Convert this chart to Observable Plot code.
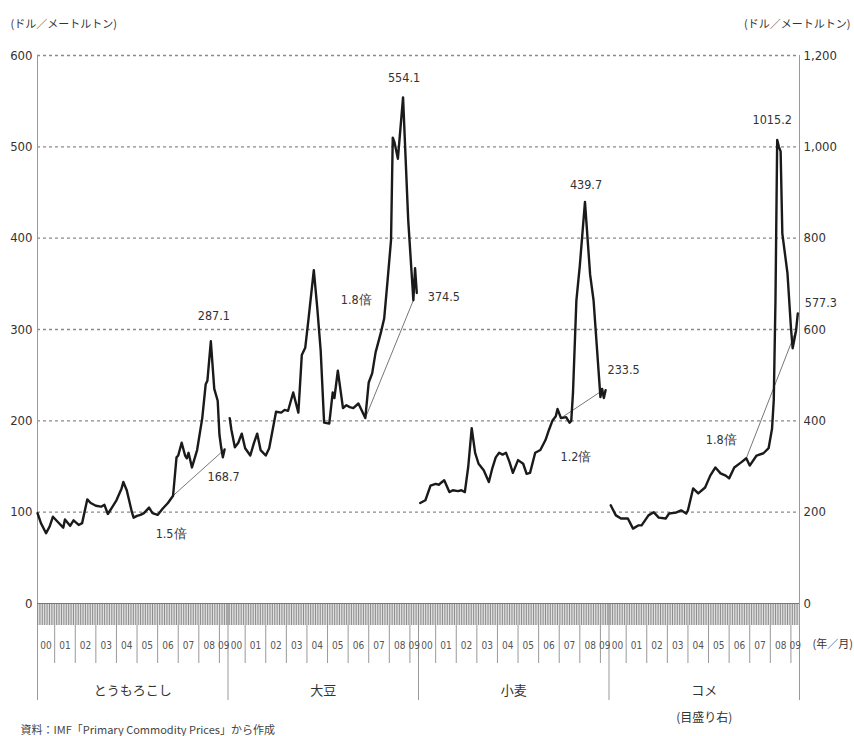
<!DOCTYPE html>
<html><head><meta charset="utf-8">
<script src="https://cdn.jsdelivr.net/npm/d3@7"></script>
<script src="https://cdn.jsdelivr.net/npm/@observablehq/plot@0.6"></script>
<style>
body{margin:0;background:#fff}
#chart{position:relative;width:854px;height:736px;overflow:hidden}
</style>
</head><body><div id="chart"></div>
<script>
// ---- data ----
const commodities = ["とうもろこし", "大豆", "小麦", "コメ"];
const yearLabels = ["00","01","02","03","04","05","06","07","08","09"];
const leftTicks = [0, 100, 200, 300, 400, 500, 600];
const unitLabel = "(ドル／メートルトン)";
const axisUnit = "(年／月)";
const rightNote = "(目盛り右)";
const sourceNote = "資料：IMF「Primary Commodity Prices」から作成";

// months counted from 2000/01 (=0)
const cornMonths = [2,4,7,9,11,14,17,18,21,23,26,28,31,33,36,39,41,43,45,48,51,52,54,55,57,58,60,62,64,67,69,72,75,78,81,83,84,86,88,89,90,92,95,98,100,101,103,105,107,108,109,110,111];
const cornPrices = [99,88,77,84,95,89,83,92,85,91,86,88,114,110,107,106,108,98,104,113,126,133,124,116,100,94,96,97,99,105,99,97,104,110,118,160,162,176,162,159,165,149,168,203,240,244,287.1,235,222,185,171,160,168.7];

const soyMonths = [3,4,6,8,10,12,15,17,19,21,24,26,28,30,33,35,37,40,43,45,47,49,52,54,56,58,61,63,64,66,69,71,73,75,78,82,84,86,88,91,93,95,97,98,99,101,104,107,110,111,112];
const soyPrices = [203,190,171,176,186,170,162,175,186,168,162,170,190,210,209,212,211,231,209,272,280,313,365,324,277,198,197,231,225,255,214,217,215,214,219,203,242,252,275,296,312,354,398,510,505,487,554.1,420,332,367,340];

const wheatMonths = [3,6,9,12,14,15,17,20,22,25,27,29,31,33,35,37,40,43,45,47,49,51,53,55,57,60,63,65,67,70,73,76,78,80,82,83,85,88,90,91,92,94,96,99,102,104,108,109,110,111];
const wheatPrices = [110,113,129,131,130,132,135,122,124,123,124,122,150,192,165,153,146,133,148,160,165,163,165,155,143,157,153,142,143,165,168,179,190,200,205,213,203,204,198,200,230,332,370,439.7,360,332,226,235,225,233.5];

const riceMonths = [3,6,9,13,16,19,21,25,28,31,35,37,41,44,47,48,51,54,58,61,64,67,70,72,75,79,82,84,88,92,95,97,98,99,100,101,102,103,106,108,109,111,112];
const ricePrices = [215,193,186,186,164,171,171,193,200,188,186,197,199,204,197,204,252,241,254,280,298,285,280,274,298,309,318,302,324,329,340,383,445,664,1015.2,1000,990,810,723,605,559,598,635];

const peakMonths = [103, 104, 99, 100];
const peakValues = [287.1, 554.1, 439.7, 1015.2];
const endMonths = [111, 112, 111, 112];
const endValues = [168.7, 340, 233.5, 635];
const endLabels = ["168.7", "374.5", "233.5", "577.3"];
const ratioLabels = ["1.5倍", "1.8倍", "1.2倍", "1.8倍"];
const connFromMonths = [81, 82, 85, 82];
const connFromValues = [118, 203, 203, 318];
const connToMonths = [111, 110, 109, 111];
const connToValues = [168.7, 332, 233, 598];
const valueFactor = [1, 1, 1, 0.5]; // コメ uses right axis (x2)

// ---- layout helpers ----
const m0 = 2, m1 = 113, S = m1 - m0;        // months per section
const pos = (k, m) => k * S + (m - m0);
const W = 854, H = 736, mL = 37, mR = 55, mT = 55, mB = 133;
const ppu = (H - mT - mB) / 600;             // px per left-axis unit
const px = p => p / ppu;                     // px -> value units
const band = px(22);

const series = [];
[[cornMonths, cornPrices],[soyMonths, soyPrices],[wheatMonths, wheatPrices],[riceMonths, ricePrices]]
  .forEach(([ms, vs], k) => ms.forEach((m, i) => series.push({k, x: pos(k, m), y: vs[i] * valueFactor[k]})));

const monthTicks = [];
for (let k = 0; k < 4; k++) for (let m = m0; m <= m1; m++) monthTicks.push(pos(k, m));
const yearTicks = [];
for (let k = 0; k < 4; k++) for (let y = 1; y <= 9; y++) yearTicks.push(pos(k, 12 * y));
const sectionTicks = [0, 1, 2, 3, 4].map(k => k * S);
const yearLabelData = [];
for (let k = 0; k < 4; k++) yearLabels.forEach((t, y) => {
  const a = y === 0 ? m0 : 12 * y, b = y === 9 ? m1 : 12 * (y + 1);
  yearLabelData.push({x: pos(k, (a + b) / 2), t});
});

const numFont = "'Liberation Sans Narrow','Arial Narrow','DejaVu Sans Condensed','Roboto','Liberation Sans',sans-serif";
const jpFont = "'Noto Sans CJK JP','Noto Sans',sans-serif";
const txt = "#333";

const peakOff = [[3,-25],[1,-19],[1,-17],[-5,-20]];
const endOff = [["middle",-1,28],["start",11,4],["start",2,-20],["start",7,-11]];
const ratioOff = [[-2,38],[-9,-118],[15,39],[-25,-18]];

const marks = [
  Plot.ruleY([100,200,300,400,500,600], {stroke: "#8a8a8a", strokeWidth: 1.3, strokeDasharray: "3,3"}),
  Plot.ruleX(monthTicks, {x: d => d, y1: 0, y2: -band, stroke: "#8c8c8c", strokeWidth: 1}),
  Plot.ruleY([0], {stroke: "#777", strokeWidth: 1}),
  Plot.ruleX(yearTicks, {x: d => d, y1: -band, y2: -band - px(38), stroke: "#999", strokeWidth: 1}),
  Plot.ruleX(sectionTicks, {x: d => d, y1: -band, y2: -px(97), stroke: "#999", strokeWidth: 1}),
  Plot.ruleX([0], {x: d => d, y1: 0, y2: 600, stroke: "#999", strokeWidth: 1}),
  Plot.ruleX([4 * S], {x: d => d, y1: -px(97), y2: 600, stroke: "#999", strokeWidth: 1}),
  Plot.axisY({anchor: "left", label: null, ticks: leftTicks, tickSize: 0, tickPadding: 5, fontSize: 13, fontFamily: numFont, color: txt}),
  Plot.axisY({anchor: "right", label: null, ticks: leftTicks, tickSize: 0, tickPadding: 4, fontSize: 13, fontFamily: numFont, color: txt,
    tickFormat: d => d3.format(",")(d * 2)}),
  Plot.link(commodities.map((c, k) => k), {
    x1: k => pos(k, connFromMonths[k]), y1: k => connFromValues[k] * valueFactor[k],
    x2: k => pos(k, connToMonths[k]), y2: k => connToValues[k] * valueFactor[k],
    stroke: "#777", strokeWidth: 1}),
  Plot.line(series, {x: "x", y: "y", z: "k", stroke: "#1a1a1a", strokeWidth: 2.4, strokeLinejoin: "round"}),
  Plot.text(yearLabelData, {x: "x", y: 0, dy: 42, text: "t", fontSize: 10, fontFamily: numFont, fill: "#555"}),
  Plot.text(commodities, {x: (d, k) => k * S + S / 2, y: 0, dy: 87, text: d => d, fontSize: 13, fontFamily: jpFont, fill: txt}),
  Plot.text([rightNote], {x: 3 * S + S / 2, y: 0, dy: 115, text: d => d, fontSize: 12, fontFamily: jpFont, fill: txt}),
  Plot.text([axisUnit], {frameAnchor: "bottom-right", dx: 13, dy: 44, textAnchor: "start", text: d => d, fontSize: 11, fontFamily: jpFont, fill: txt}),
  Plot.text([unitLabel], {frameAnchor: "top-left", dx: -27, dy: -35, textAnchor: "start", text: d => d, fontSize: 11, fontFamily: jpFont, fill: txt}),
  Plot.text([unitLabel], {frameAnchor: "top-right", dx: 51, dy: -35, textAnchor: "end", text: d => d, fontSize: 11, fontFamily: jpFont, fill: txt}),
  Plot.text([sourceNote], {frameAnchor: "bottom-left", dx: -17, dy: 130, textAnchor: "start", text: d => d, fontSize: 11, fontFamily: jpFont, fill: "#444"})
];
commodities.forEach((c, k) => {
  marks.push(Plot.text([k], {x: pos(k, peakMonths[k]), y: peakValues[k] * valueFactor[k], text: () => String(peakValues[k]),
    dx: peakOff[k][0], dy: peakOff[k][1], fontSize: 12.5, fontFamily: numFont, fill: txt}));
  marks.push(Plot.text([k], {x: pos(k, endMonths[k]), y: endValues[k] * valueFactor[k], text: () => endLabels[k],
    textAnchor: endOff[k][0], dx: endOff[k][1], dy: endOff[k][2], fontSize: 12.5, fontFamily: numFont, fill: txt}));
  marks.push(Plot.text([k], {x: pos(k, connFromMonths[k]), y: connFromValues[k] * valueFactor[k], text: () => ratioLabels[k],
    dx: ratioOff[k][0], dy: ratioOff[k][1], fontSize: 12.5, fontFamily: numFont, fill: txt}));
});

const chart = Plot.plot({
  width: W, height: H,
  marginLeft: mL, marginRight: mR, marginTop: mT, marginBottom: mB,
  x: {domain: [0, 4 * S], axis: null},
  y: {domain: [0, 600], axis: null},
  style: {background: "#fff", color: txt, fontFamily: numFont, overflow: "visible"},
  marks
});
document.getElementById("chart").appendChild(chart);
</script>
</body></html>
